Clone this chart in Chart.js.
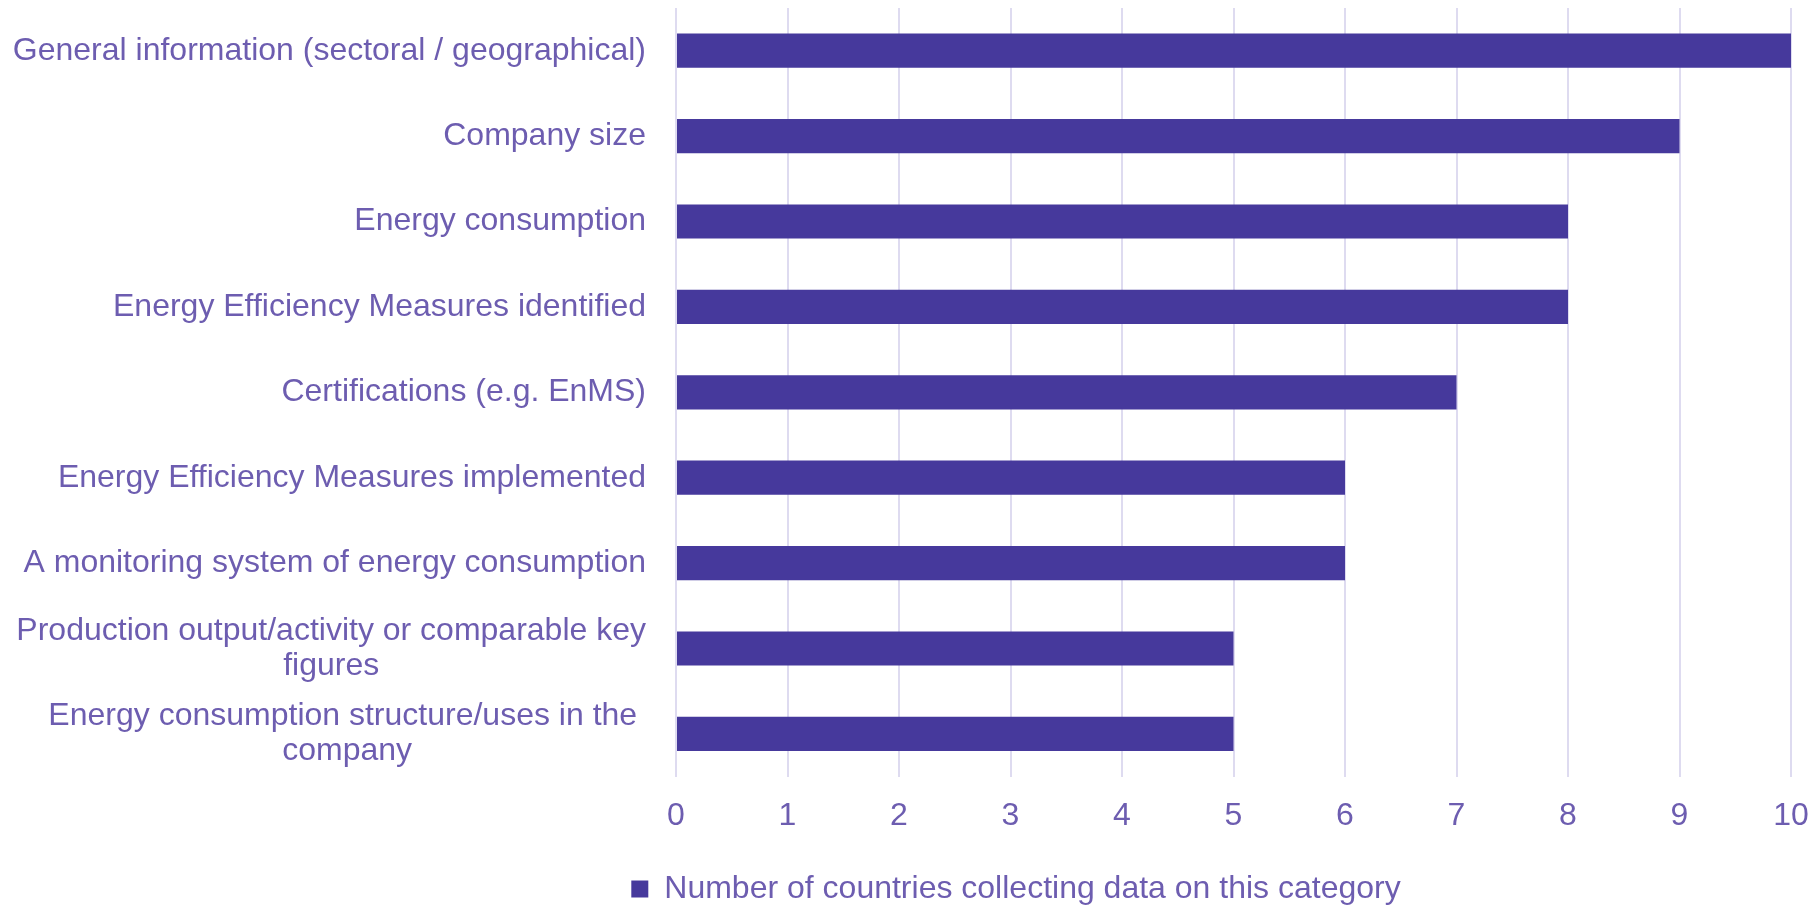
<!DOCTYPE html>
<html>
<head>
<meta charset="utf-8">
<script src="https://cdn.jsdelivr.net/npm/chart.js@4"></script>
<style>
  body { margin: 0; background: #fff; }
  canvas { display: block; }
</style>
</head>
<body>
<canvas id="chart" width="1816" height="905"></canvas>
<script>
/* Data */
const categories = [
  ["General information (sectoral / geographical)"],
  ["Company size"],
  ["Energy consumption"],
  ["Energy Efficiency Measures identified"],
  ["Certifications (e.g. EnMS)"],
  ["Energy Efficiency Measures implemented"],
  ["A monitoring system of energy consumption"],
  ["Production output/activity or comparable key", "figures"],
  ["Energy consumption structure/uses in the ", "company"],
];
const countries = [10, 9, 8, 8, 7, 6, 6, 5, 5];
const seriesName = "Number of countries collecting data on this category";
const xTicks = [0, 1, 2, 3, 4, 5, 6, 7, 8, 9, 10];

const barColor = "#46399c";
const textColor = "#6d5db0";
const gridColor = "#dedbf0";
const fontFamily = "'Liberation Sans', Arial, sans-serif";

/* category labels: block right aligned, lines centered */
const yLabels = {
  id: "yLabels",
  afterDraw(chart) {
    const { ctx, scales } = chart;
    const y = scales.y;
    ctx.save();
    ctx.font = "32px " + fontFamily;
    ctx.fillStyle = textColor;
    ctx.textAlign = "center";
    ctx.textBaseline = "middle";
    categories.forEach((lines, i) => {
      const yc = y.getPixelForValue(i);
      const w = Math.max(...lines.map((l) => ctx.measureText(l).width));
      const xc = chart.chartArea.left - 30 - w / 2;
      lines.forEach((line, j) => {
        ctx.fillText(line, xc, yc + (j - (lines.length - 1) / 2) * 35);
      });
    });
    ctx.restore();
  },
};

/* legend sits right of centre in the original */
const legendShift = {
  id: "legendShift",
  afterLayout(chart) {
    chart.legend.left += 216;
  },
};

new Chart(document.querySelector("#chart"), {
  type: "bar",
  data: {
    labels: categories,
    datasets: [
      {
        label: seriesName,
        data: countries,
        backgroundColor: barColor,
        borderWidth: 0,
        barPercentage: 0.4,
        categoryPercentage: 1,
      },
    ],
  },
  options: {
    indexAxis: "y",
    responsive: false,
    animation: false,
    layout: { padding: { top: 8, right: 0, left: 0, bottom: -10 } },
    scales: {
      x: {
        min: 0,
        max: 10,
        afterBuildTicks: (scale) => {
          scale.ticks = xTicks.map((v) => ({ value: v }));
        },
        afterFit: (scale) => {
          scale.paddingRight = 25;
        },
        grid: { color: gridColor, lineWidth: 2, drawTicks: false },
        border: { display: false },
        ticks: {
          color: textColor,
          font: { family: fontFamily, size: 32 },
          padding: 20,
        },
      },
      y: {
        grid: { display: false },
        border: { display: false },
        ticks: { display: false },
        afterFit: (scale) => {
          scale.width = 676;
        },
      },
    },
    plugins: {
      legend: {
        position: "bottom",
        labels: {
          color: textColor,
          font: { family: fontFamily, size: 32 },
          boxWidth: 17,
          boxHeight: 17,
          padding: 18,
        },
      },
      tooltip: { enabled: false },
    },
  },
  plugins: [yLabels, legendShift],
});
</script>
</body>
</html>
